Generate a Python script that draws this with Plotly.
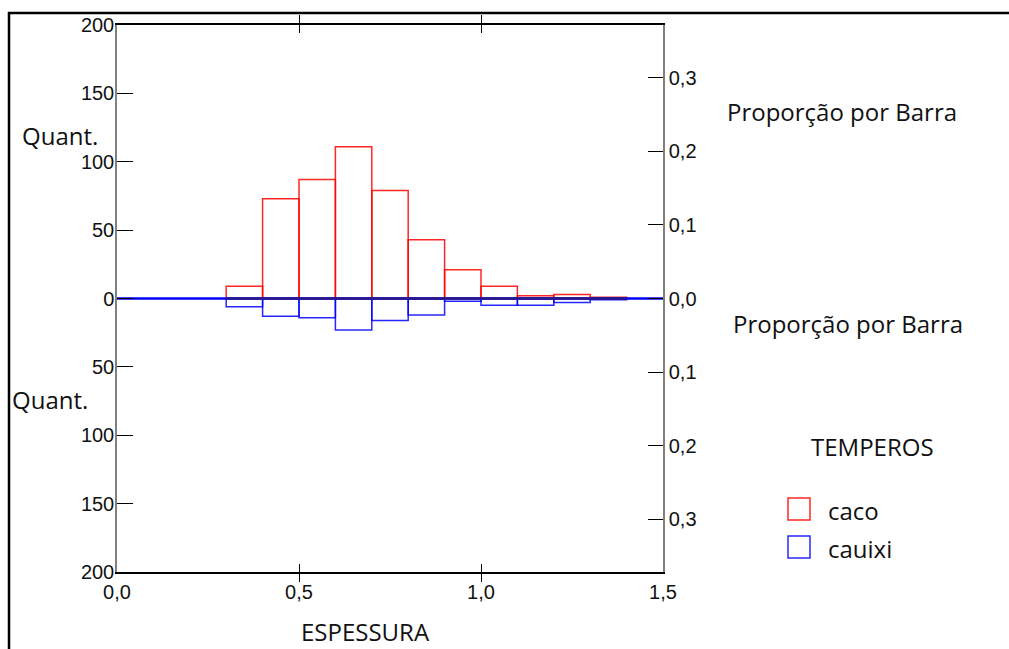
import plotly.graph_objects as go

# Histogram bins (lower edges) for ESPESSURA, width 0.1
bin_starts = [0.3, 0.4, 0.5, 0.6, 0.7, 0.8, 0.9, 1.0, 1.1, 1.2, 1.3]
bin_width = 0.1

# Counts per bin for each TEMPEROS group
caco_counts = [9, 73, 87, 111, 79, 43, 21, 9, 2, 3, 1]
cauixi_counts = [6, 13, 14, 23, 16, 12, 2, 5, 5, 3, 1]

# Tick labels
x_ticks = [0.0, 0.5, 1.0, 1.5]
x_ticktext = ["0,0", "0,5", "1,0", "1,5"]
count_ticks = [-200, -150, -100, -50, 0, 50, 100, 150, 200]
count_ticktext = ["200", "150", "100", "50", "0", "50", "100", "150", "200"]
prop_ticks = [-0.3, -0.2, -0.1, 0.0, 0.1, 0.2, 0.3]
prop_ticktext = ["0,3", "0,2", "0,1", "0,0", "0,1", "0,2", "0,3"]

total_n = sum(caco_counts) + sum(cauixi_counts)
centers = [s + bin_width / 2 for s in bin_starts]

W, H = 1009, 649
L, R, T, B = 117, 346, 25, 77
PW, PH = W - L - R, H - T - B


def px(xp):
    return (xp - L) / PW


def py(yp):
    return (H - B - yp) / PH


RED = "rgba(255,0,0,0.85)"
BLUE = "rgba(0,0,255,0.85)"
TICK_FONT = dict(family="Liberation Sans, Arial", size=20, color="#111")
TEXT_FONT = dict(family="Open Sans, Noto Sans", size=24, color="#111")

fig = go.Figure()

# baseline across the full axis
fig.add_trace(go.Scatter(x=[0, 1.5], y=[0, 0], mode="lines",
                         line=dict(color="#0000ff", width=2.5),
                         hoverinfo="skip", showlegend=False))

fig.add_trace(go.Bar(x=centers, y=caco_counts, width=bin_width, name="caco",
                     marker=dict(color="rgba(0,0,0,0)", line=dict(color=RED, width=1.5)),
                     showlegend=False))
fig.add_trace(go.Bar(x=centers, y=[-c for c in cauixi_counts], width=bin_width, name="cauixi",
                     marker=dict(color="rgba(0,0,0,0)", line=dict(color=BLUE, width=1.5)),
                     showlegend=False))

# overlap of both baselines inside the binned range
fig.add_trace(go.Scatter(x=[bin_starts[0], bin_starts[-1] + bin_width], y=[0, 0], mode="lines",
                         line=dict(color="#2a1a85", width=2.5),
                         hoverinfo="skip", showlegend=False))

# invisible trace to carry the proportion axis
fig.add_trace(go.Scatter(x=[0], y=[0], yaxis="y2", mode="markers",
                         marker=dict(opacity=0), hoverinfo="skip", showlegend=False))

fig.update_layout(
    width=W, height=H,
    margin=dict(l=L, r=R, t=T, b=B),
    paper_bgcolor="white", plot_bgcolor="white",
    barmode="overlay",
    xaxis=dict(range=[0, 1.5], tickvals=x_ticks, ticktext=x_ticktext,
               showline=True, linecolor="black", linewidth=1.5, mirror="allticks",
               ticks="inside", ticklen=8, tickcolor="black", tickwidth=1,
               showgrid=False, zeroline=False, tickfont=TICK_FONT,
               ticklabelstandoff=1),
    yaxis=dict(range=[-200, 200], tickvals=count_ticks, ticktext=count_ticktext,
               showline=True, linecolor="#808080", linewidth=1.5,
               ticks="inside", ticklen=16, tickcolor="black", tickwidth=1,
               showgrid=False, zeroline=False, tickfont=TICK_FONT,
               ticklabelstandoff=-3),
    yaxis2=dict(range=[-200 / total_n, 200 / total_n], overlaying="y", side="right",
                tickvals=prop_ticks, ticktext=prop_ticktext,
                showline=True, linecolor="#808080", linewidth=1.5,
                ticks="inside", ticklen=15, tickcolor="black", tickwidth=1,
                showgrid=False, zeroline=False, tickfont=TICK_FONT),
)

# outer frame
fig.add_shape(type="path", xref="paper", yref="paper",
              path=f"M {px(9)} {py(660)} L {px(9)} {py(13)} L {px(1020)} {py(13)}",
              line=dict(color="black", width=2.5))

texts = [
    ("Quant.", 60, 136, "center"),
    ("Quant.", 50, 399, "center"),
    ("Proporção por Barra", 842, 112, "center"),
    ("Proporção por Barra", 848, 323, "center"),
    ("ESPESSURA", 365, 631, "center"),
    ("TEMPEROS", 872, 446, "center"),
    ("caco", 826, 510, "left"),
    ("cauixi", 826, 548, "left"),
]
for t, xp, yp, anchor in texts:
    fig.add_annotation(text=t, x=px(xp), y=py(yp), xref="paper", yref="paper",
                       xanchor=anchor, yanchor="middle", showarrow=False, font=TEXT_FONT)

# legend swatches
for color, y0 in [(RED, 498), (BLUE, 536)]:
    fig.add_shape(type="rect", xref="paper", yref="paper",
                  x0=px(788), x1=px(810), y0=py(y0), y1=py(y0 + 22),
                  line=dict(color=color, width=1.5), fillcolor="rgba(0,0,0,0)")

fig.write_html("out.html")
